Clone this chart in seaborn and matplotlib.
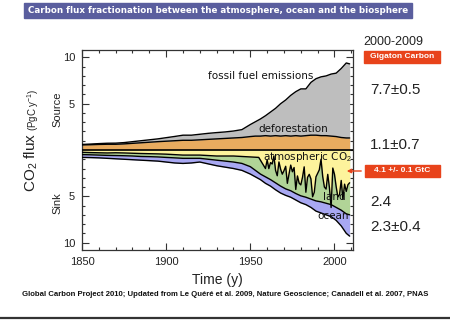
import matplotlib
matplotlib.use("Agg")
import matplotlib.pyplot as plt
import matplotlib.font_manager as fm
from matplotlib.patches import Rectangle, FancyArrowPatch
from matplotlib.ticker import MultipleLocator, FixedLocator
import numpy as np
import seaborn as sns

# ---------------- data ----------------
years = [1850, 1855, 1860, 1865, 1870, 1875, 1880, 1885, 1890, 1895, 1900, 1905,
         1910, 1915, 1920, 1925, 1930, 1935, 1940, 1945, 1950, 1953, 1956, 1959,
         1962, 1965, 1968, 1971, 1974, 1977, 1980, 1983, 1986, 1989, 1992, 1995,
         1998, 2001, 2004, 2007, 2009]

# sources (PgC/y)
deforestation = [0.55, 0.57, 0.60, 0.62, 0.62, 0.66, 0.72, 0.78, 0.84, 0.90, 0.95, 1.00,
                 1.05, 1.05, 1.10, 1.15, 1.20, 1.25, 1.30, 1.35, 1.45, 1.50, 1.50, 1.55,
                 1.50, 1.55, 1.50, 1.55, 1.50, 1.55, 1.50, 1.55, 1.60, 1.60, 1.55, 1.55,
                 1.50, 1.45, 1.35, 1.30, 1.30]
fossil_fuel = [0.05, 0.07, 0.09, 0.11, 0.12, 0.14, 0.18, 0.22, 0.26, 0.30, 0.38, 0.46,
               0.55, 0.55, 0.60, 0.65, 0.68, 0.70, 0.75, 0.85, 1.30, 1.55, 1.85, 2.15,
               2.60, 2.95, 3.50, 3.85, 4.40, 4.75, 5.10, 5.05, 5.70, 6.10, 6.35, 6.45,
               6.70, 6.85, 7.45, 8.10, 8.00]

# sinks (PgC/y, magnitudes)
sink_total = [0.80, 0.82, 0.85, 0.90, 0.95, 1.00, 1.05, 1.10, 1.15, 1.20, 1.30, 1.40,
              1.45, 1.40, 1.30, 1.50, 1.70, 1.85, 2.00, 2.20, 2.60, 2.90, 3.20, 3.60,
              3.90, 4.30, 4.65, 4.90, 5.10, 5.40, 5.70, 5.90, 6.20, 6.60, 6.80, 7.00,
              7.20, 7.60, 8.20, 9.00, 9.30]
ocean = [0.30, 0.30, 0.30, 0.32, 0.35, 0.38, 0.40, 0.40, 0.43, 0.45, 0.50, 0.55,
         0.55, 0.50, 0.40, 0.50, 0.60, 0.65, 0.70, 0.75, 0.80, 0.70, 0.60, 0.70,
         0.70, 0.75, 0.75, 0.70, 0.70, 0.70, 0.75, 0.80, 0.90, 1.10, 1.20, 1.25,
         1.30, 1.40, 1.70, 2.10, 2.30]

atm_years = [1850, 1855, 1860, 1865, 1870, 1875, 1880, 1885, 1890, 1895, 1900, 1905,
             1910, 1915, 1920, 1925, 1930, 1935, 1940, 1945, 1950, 1955] + list(range(1959, 2010))
atmosphere = [0.25, 0.28, 0.30, 0.32, 0.30, 0.32, 0.35, 0.38, 0.40, 0.42, 0.45, 0.50,
              0.55, 0.55, 0.55, 0.60, 0.65, 0.65, 0.65, 0.70, 0.75, 0.80,
              2.00, 1.06, 2.01, 1.36, 1.51, 0.64, 2.20, 2.78, 1.29, 2.08, 2.61, 2.23,
              1.76, 3.60, 2.59, 1.63, 2.35, 1.89, 4.26, 2.80, 3.58, 3.77, 2.95, 1.82,
              4.56, 2.95, 2.63, 3.12, 5.05, 4.56, 2.90, 2.52, 2.14, 1.00, 2.86, 4.00,
              4.22, 2.63, 4.07, 6.21, 1.95, 2.63, 3.96, 5.07, 4.81, 3.29, 5.32, 3.69,
              4.47, 3.75, 3.54]

budget_labels = ["7.7\u00b10.5", "1.1\u00b10.7", "2.4", "2.3\u00b10.4"]
budget_ypix = [90, 145, 202, 227]

# ---------------- style ----------------
sns.set_theme(style="ticks")
names = {f.name for f in fm.fontManager.ttflist}
narrow = "Liberation Sans Narrow" if "Liberation Sans Narrow" in names else "Liberation Sans"
plt.rcParams["font.family"] = ["Liberation Sans", "DejaVu Sans"]
plt.rcParams["mathtext.fontset"] = "custom"
plt.rcParams["mathtext.rm"] = "Liberation Sans"
plt.rcParams["mathtext.it"] = "Liberation Sans:italic"

W, H = 450, 331
fig = plt.figure(figsize=(W / 100, H / 100), dpi=100)
fig.patch.set_facecolor("white")
ax = fig.add_axes([82 / W, 1 - 250 / H, 271 / W, 200 / H])
ax.set_facecolor("white")

def fx(px):
    return px / W

def fy(py):
    return 1 - py / H

yrs = np.array(years, dtype=float)
luc = np.array(deforestation)
top = luc + np.array(fossil_fuel)
bottom = -np.array(sink_total)
edge = bottom + np.array(ocean)
atm_x = np.array(atm_years, dtype=float)
atm = -np.array(atmosphere)

C_GRAY = "#bebebe"
C_ORANGE = "#e8ab5f"
C_YELLOW = "#fdf39c"
C_GREEN = "#b1d497"
C_BLUE = "#a8a8f2"

ax.fill_between(yrs, 0, top, color=C_GRAY, lw=0, zorder=1.0)
ax.fill_between(yrs, 0, luc, color=C_ORANGE, lw=0, zorder=1.2)
ax.fill_between(yrs, 0, edge, color=C_GREEN, lw=0, zorder=1.0)
ax.fill_between(atm_x, 0, atm, color=C_YELLOW, lw=0, zorder=1.5)
ax.fill_between(yrs, edge, bottom, color=C_BLUE, lw=0, zorder=1.8)

for yv in (top, luc, edge, bottom):
    sns.lineplot(x=yrs, y=yv, color="black", lw=1.0, ax=ax, zorder=4)
sns.lineplot(x=atm_x, y=atm, color="black", lw=1.0, ax=ax, zorder=4)
ax.axhline(0, color="black", lw=1.2, zorder=5)

ax.set_xlim(1850, 2011)
ax.set_ylim(-10.8, 10.8)
ax.xaxis.set_major_locator(FixedLocator([1850, 1900, 1950, 2000]))
ax.xaxis.set_minor_locator(MultipleLocator(10))
ax.yaxis.set_major_locator(FixedLocator([-10, -5, 5, 10]))
ax.set_yticklabels(["10", "5", "5", "10"])
ax.yaxis.set_minor_locator(MultipleLocator(1))
ax.tick_params(which="both", direction="in", top=True, right=True,
               colors="#333333", width=0.8)
ax.tick_params(which="major", length=5, labelsize=8, pad=5)
ax.tick_params(which="minor", length=2.5)
for lab in ax.get_xticklabels() + ax.get_yticklabels():
    lab.set_family(narrow)
    lab.set_color("#222222")
for s in ax.spines.values():
    s.set_color("#333333")
    s.set_linewidth(0.9)
ax.set_xlabel("")
ax.set_ylabel("")

# in-chart labels
lbl = dict(family="DejaVu Sans", fontsize=7.5, color="#111111", zorder=6, va="center", ha="left")
ax.text(1925, 7.95, "fossil fuel emissions", **lbl)
ax.text(1954.6, 2.25, "deforestation", **lbl)
ax.text(1957.5, -0.75, "atmospheric CO$_2$", **lbl)
ax.text(1993.2, -5.05, "land", **lbl)
ax.text(1989.6, -7.1, "ocean", **lbl)

# axis labels
fig.text(fx(217), fy(280), "Time (y)", family=narrow, fontsize=10, color="#222222",
         ha="center", va="center")
t1 = fig.text(fx(31), fy(192), "CO$_2$ flux", fontsize=11, rotation=90, ha="center",
              va="bottom", color="#222222")
renderer = fig.canvas.get_renderer()
bb = t1.get_window_extent(renderer)
fig.text(fx(33), (bb.y1 + 2) / H, "(PgC y$^{-1}$)", fontsize=7, rotation=90, ha="center",
         va="bottom", color="#222222")
fig.text(fx(57), fy(109), "Source", family=narrow, fontsize=8, rotation=90,
         ha="center", va="center", color="#222222")
fig.text(fx(57), fy(203), "Sink", family=narrow, fontsize=8, rotation=90,
         ha="center", va="center", color="#222222")

# title banner
fig.patches.append(Rectangle((fx(24), fy(18)), (412 - 24) / W, 15 / H,
                             transform=fig.transFigure, color="#5a5e9e", zorder=0))
fig.text(fx(218), fy(10.5), "Carbon flux fractionation between the atmosphere, ocean and the biosphere",
         family="DejaVu Sans", weight="bold", fontsize=6.3, color="white",
         ha="center", va="center")

# right-side budget
fig.text(fx(363), fy(42), "2000-2009", fontsize=9, color="#222222", ha="left", va="center")
fig.patches.append(Rectangle((fx(364), fy(63)), 76 / W, 12 / H,
                             transform=fig.transFigure, color="#e8431b", zorder=0))
fig.text(fx(402), fy(57), "Gigaton Carbon", fontsize=6, weight="bold", color="white",
         ha="center", va="center")
for lab, py in zip(budget_labels, budget_ypix):
    fig.text(fx(370), fy(py), lab, fontsize=11, color="#222222", ha="left", va="center")
fig.patches.append(Rectangle((fx(365), fy(177)), 75 / W, 12 / H,
                             transform=fig.transFigure, color="#e8431b", zorder=0))
fig.text(fx(402.5), fy(171), "4.1 +/- 0.1 GtC", fontsize=6, weight="bold", color="white",
         ha="center", va="center")
fig.patches.append(FancyArrowPatch((fx(364), fy(171)), (fx(344), fy(171)),
                                   transform=fig.transFigure, arrowstyle="-|>",
                                   mutation_scale=6, color="#e8431b", lw=1.0, zorder=7))

# footnote + rule
fig.text(fx(225), fy(295),
         "Global Carbon Project 2010; Updated from Le Qu\u00e9r\u00e9 et al. 2009, Nature Geoscience; Canadell et al. 2007, PNAS",
         family=narrow, weight="bold", fontsize=5.6, color="#111111", ha="center", va="center")
fig.add_artist(plt.Line2D([0, 1], [fy(318), fy(318)], transform=fig.transFigure,
                          color="#333333", lw=1.6))

fig.savefig("out.png", dpi=100)
